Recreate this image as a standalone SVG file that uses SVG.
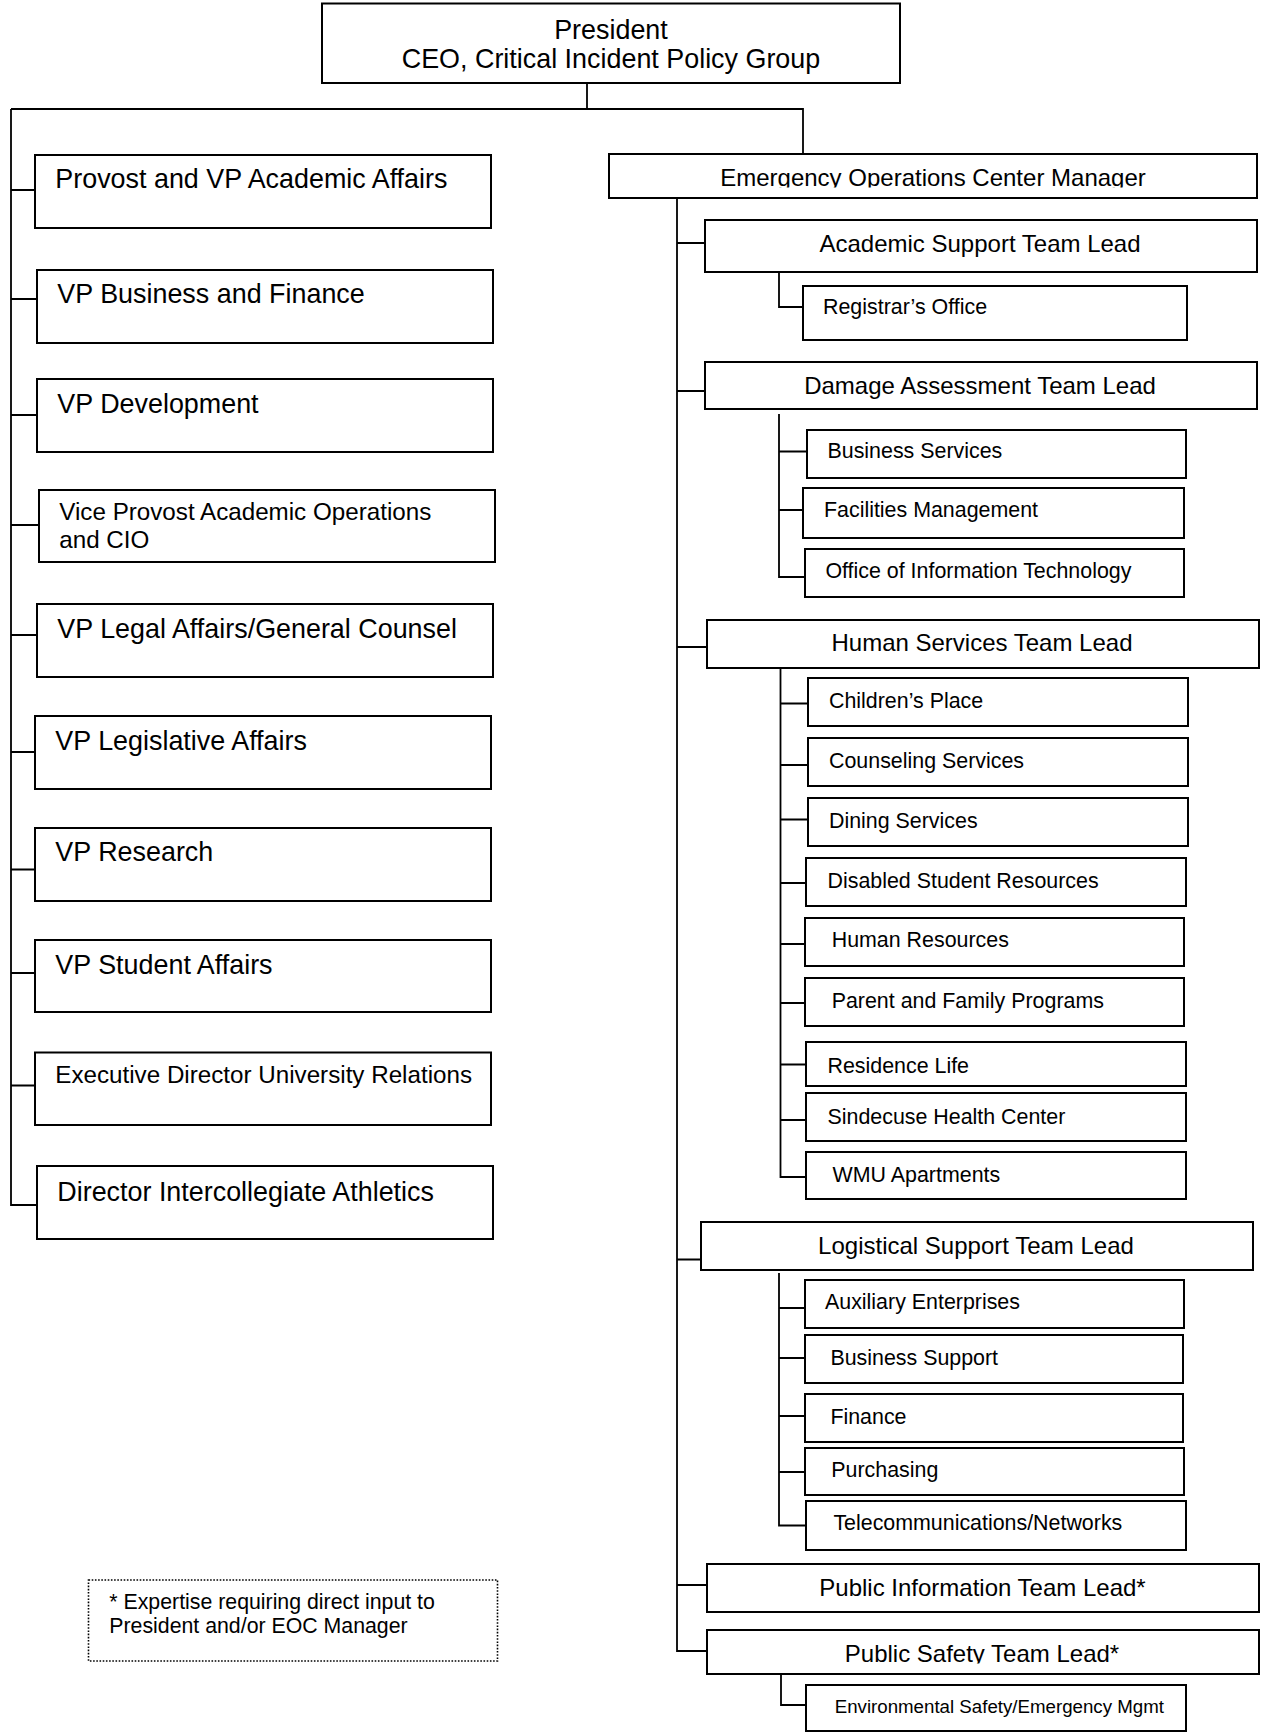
<svg xmlns="http://www.w3.org/2000/svg" width="1263" height="1733" viewBox="0 0 1263 1733">
<style>
rect.b{fill:#fff;stroke:#000;stroke-width:2}
rect.note{fill:none;stroke:#000;stroke-width:1.6;stroke-dasharray:1.6 1.6}
.c path{fill:none;stroke:#000;stroke-width:1.8}
text{font-family:"Liberation Sans",Arial,sans-serif;fill:#000}
.big{font-size:26.9px}
.mid{font-size:24.2px}
.lead{font-size:24px;text-anchor:middle}
.sub{font-size:21.4px}
.note-t{font-size:21.3px}
.small{font-size:18.7px}
</style>
<defs>
<clipPath id="clipEoc"><rect x="609" y="150" width="648" height="37.5"/></clipPath>
<clipPath id="clipPs"><rect x="707" y="1626" width="552" height="37.5"/></clipPath>
</defs>
<g class="c" id="connectors">
<path d="M587,83 V109 M11,109 H803 V154 M11,109 V1205 H37"/>
<path d="M11,190 H35 M11,299 H37 M11,415 H37 M11,525 H39 M11,635 H37 M11,752 H35 M11,869.5 H35 M11,973 H35 M11,1085.5 H35"/>
<path d="M677,198 V1651 H707 M677,243 H705 M677,391 H705 M677,647 H707 M677,1259.5 H701 M677,1585 H707"/>
<path d="M779,272 V307 H803"/>
<path d="M779,414 V577 H805 M779,451.5 H807 M779,510 H803"/>
<path d="M780.5,668 V1177 H806 M780.5,703.5 H808 M780.5,765 H808 M780.5,819.5 H808 M780.5,883 H806 M780.5,944 H805 M780.5,1003 H805 M780.5,1064.5 H806 M780.5,1120 H806"/>
<path d="M779,1273 V1525.5 H806 M779,1308 H805 M779,1358 H805 M779,1416 H805 M779,1472 H805"/>
<path d="M781,1674 V1705 H806"/>
</g>
<g id="president"><rect class="b" x="322" y="3.5" width="578" height="79.5"/><text class="big" x="611" y="38.5" text-anchor="middle">President</text><text class="big" x="611" y="68.3" text-anchor="middle">CEO, Critical Incident Policy Group</text></g>
<g id="provost"><rect class="b" x="35" y="155" width="456" height="73"/><text class="big" x="55.3" y="188.3">Provost and VP Academic Affairs</text></g>
<g id="vp-business"><rect class="b" x="37" y="270" width="456" height="73"/><text class="big" x="57.3" y="303.3">VP Business and Finance</text></g>
<g id="vp-development"><rect class="b" x="37" y="379" width="456" height="73"/><text class="big" x="57.3" y="412.7">VP Development</text></g>
<g id="vice-provost"><rect class="b" x="39" y="490" width="456" height="72"/><text class="mid" x="59.3" y="520">Vice Provost Academic Operations</text><text class="mid" x="59.3" y="548.3">and CIO</text></g>
<g id="vp-legal"><rect class="b" x="37" y="604" width="456" height="73"/><text class="big" x="57.3" y="638.2">VP Legal Affairs/General Counsel</text></g>
<g id="vp-legislative"><rect class="b" x="35" y="716" width="456" height="73"/><text class="big" x="55.3" y="749.8">VP Legislative Affairs</text></g>
<g id="vp-research"><rect class="b" x="35" y="828" width="456" height="73"/><text class="big" x="55.3" y="861.4">VP Research</text></g>
<g id="vp-student"><rect class="b" x="35" y="940" width="456" height="72"/><text class="big" x="55.3" y="974">VP Student Affairs</text></g>
<g id="exec-director"><rect class="b" x="35" y="1052.5" width="456" height="72.5"/><text class="mid" x="55.3" y="1083.3">Executive Director University Relations</text></g>
<g id="athletics"><rect class="b" x="37" y="1166" width="456" height="73"/><text class="big" x="57.3" y="1200.7">Director Intercollegiate Athletics</text></g>
<g id="eoc"><rect class="b" x="609" y="154" width="648" height="44"/><text class="lead" x="933" y="185.5" clip-path="url(#clipEoc)">Emergency Operations Center Manager</text></g>
<g id="academic-support"><rect class="b" x="705" y="220" width="552" height="52"/><text class="lead" x="980" y="251.7">Academic Support Team Lead</text></g>
<g id="registrar"><rect class="b" x="803" y="286" width="384" height="54"/><text class="sub" x="823" y="314">Registrar’s Office</text></g>
<g id="damage-assessment"><rect class="b" x="705" y="362" width="552" height="47"/><text class="lead" x="980" y="394">Damage Assessment Team Lead</text></g>
<g id="business-services"><rect class="b" x="807" y="430" width="379" height="48"/><text class="sub" x="827.5" y="458">Business Services</text></g>
<g id="facilities"><rect class="b" x="803" y="488" width="381" height="50"/><text class="sub" x="824" y="516.7">Facilities Management</text></g>
<g id="oit"><rect class="b" x="805" y="549" width="379" height="48"/><text class="sub" x="825.4" y="578">Office of Information Technology</text></g>
<g id="human-services"><rect class="b" x="707" y="620" width="552" height="48"/><text class="lead" x="982" y="651.4">Human Services Team Lead</text></g>
<g id="childrens-place"><rect class="b" x="808" y="678" width="380" height="48"/><text class="sub" x="829" y="707.5">Children’s Place</text></g>
<g id="counseling"><rect class="b" x="808" y="738" width="380" height="48"/><text class="sub" x="829" y="768">Counseling Services</text></g>
<g id="dining"><rect class="b" x="808" y="798" width="380" height="48"/><text class="sub" x="829" y="828">Dining Services</text></g>
<g id="disabled"><rect class="b" x="806" y="858" width="380" height="48"/><text class="sub" x="827.5" y="887.5">Disabled Student Resources</text></g>
<g id="human-resources"><rect class="b" x="805" y="918" width="379" height="48"/><text class="sub" x="831.7" y="947">Human Resources</text></g>
<g id="parent-family"><rect class="b" x="805" y="978" width="379" height="48"/><text class="sub" x="831.7" y="1008">Parent and Family Programs</text></g>
<g id="residence-life"><rect class="b" x="806" y="1042" width="380" height="44"/><text class="sub" x="827.5" y="1072.5">Residence Life</text></g>
<g id="sindecuse"><rect class="b" x="806" y="1093" width="380" height="48"/><text class="sub" x="827.5" y="1124">Sindecuse Health Center</text></g>
<g id="wmu-apartments"><rect class="b" x="806" y="1152" width="380" height="47"/><text class="sub" x="832.6" y="1182">WMU Apartments</text></g>
<g id="logistical-support"><rect class="b" x="701" y="1222" width="552" height="48"/><text class="lead" x="976" y="1254.4">Logistical Support Team Lead</text></g>
<g id="auxiliary"><rect class="b" x="805" y="1280" width="379" height="48"/><text class="sub" x="825" y="1309.4">Auxiliary Enterprises</text></g>
<g id="business-support"><rect class="b" x="805" y="1335" width="378" height="48"/><text class="sub" x="830.4" y="1365">Business Support</text></g>
<g id="finance"><rect class="b" x="805" y="1394" width="378" height="48"/><text class="sub" x="830.4" y="1423.7">Finance</text></g>
<g id="purchasing"><rect class="b" x="805" y="1448" width="379" height="47"/><text class="sub" x="831.3" y="1477">Purchasing</text></g>
<g id="telecom"><rect class="b" x="806" y="1501" width="380" height="49"/><text class="sub" x="833.4" y="1530.4">Telecommunications/Networks</text></g>
<g id="public-information"><rect class="b" x="707" y="1564" width="552" height="48"/><text class="lead" x="982.5" y="1596">Public Information Team Lead*</text></g>
<g id="public-safety"><rect class="b" x="707" y="1630" width="552" height="44"/><text class="lead" x="982" y="1661.6" clip-path="url(#clipPs)">Public Safety Team Lead*</text></g>
<g id="env-safety"><rect class="b" x="806" y="1685" width="380" height="46"/><text class="small" x="834.7" y="1713">Environmental Safety/Emergency Mgmt</text></g>
<g id="footnote"><rect class="note" x="88.5" y="1580" width="409" height="81"/><text class="note-t" x="109.3" y="1609.3">* Expertise requiring direct input to</text><text class="note-t" x="109.3" y="1632.7">President and/or EOC Manager</text></g>
</svg>
